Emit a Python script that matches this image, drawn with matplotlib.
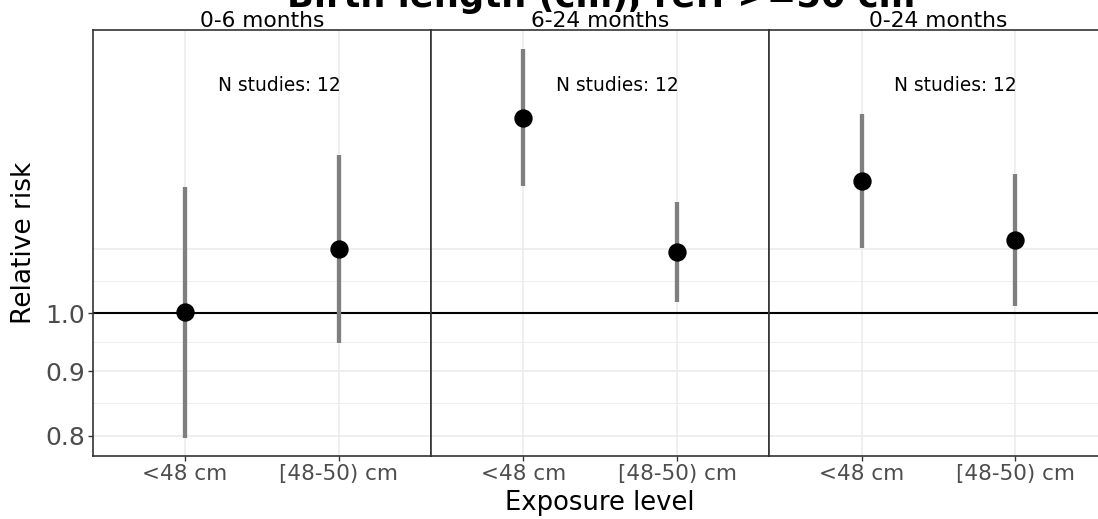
import numpy as np
import matplotlib
matplotlib.use('Agg')
import matplotlib.pyplot as plt
from matplotlib.ticker import NullLocator, FixedLocator, FixedFormatter

# ---- data ----
panels = ['0-6 months', '6-24 months', '0-24 months']
categories = ['<48 cm', '[48-50) cm']
rr = [[1.002, 1.124], [1.428, 1.118], [1.273, 1.143]]
ci_lo = [[0.797, 0.948], [1.260, 1.021], [1.126, 1.014]]
ci_hi = [[1.259, 1.335], [1.618, 1.224], [1.439, 1.288]]
n_studies = [12, 12, 12]
y_breaks = [0.8, 0.9, 1.0]
y_labels = ['0.8', '0.9', '1.0']
grid_major = [0.8, 0.9, 1.0, 1.125]
title = 'Birth length (cm), ref: >=50 cm'
xlabel = 'Exposure level'
ylabel = 'Relative risk'

grid_minor = [np.sqrt(a * b) for a, b in zip(grid_major[:-1], grid_major[1:])]

W, H = 1098, 519
fig = plt.figure(figsize=(W / 100, H / 100), dpi=100)
fig.patch.set_facecolor('white')

lefts = [92.7, 431.0, 769.3]
pw = 338.5
top_px, bot_px = 30.0, 456.0
ylim = (0.7709, 1.676)
xpos = np.arange(len(categories))

for i, name in enumerate(panels):
    ax = fig.add_axes([lefts[i] / W, (H - bot_px) / H, pw / W, (bot_px - top_px) / H])
    ax.set_yscale('log')
    ax.set_ylim(*ylim)
    ax.set_xlim(-0.6, len(categories) - 1 + 0.6)
    ax.set_facecolor('white')

    for g in grid_minor:
        ax.axhline(g, color='#ebebeb', lw=0.6, zorder=0)
    for g in grid_major:
        ax.axhline(g, color='#ebebeb', lw=1.1, zorder=0)
    for xp in xpos:
        ax.axvline(xp, color='#ebebeb', lw=1.1, zorder=0)

    ax.axhline(1.0, color='black', lw=1.5, zorder=2)

    ax.vlines(xpos, ci_lo[i], ci_hi[i], color='#7f7f7f', lw=3.1, zorder=3)
    ax.plot(xpos, rr[i], 'o', color='black', ms=12.2, mec='black', zorder=4)

    ax.text(1.61 - 1.0 + 0.0, 1.50, f'N studies: {n_studies[i]}', ha='center',
            va='baseline', fontsize=13.4, color='black', zorder=5,
            transform=ax.transData)

    ax.yaxis.set_minor_locator(NullLocator())
    ax.xaxis.set_minor_locator(NullLocator())
    ax.set_xticks(xpos)
    ax.set_xticklabels(categories, fontsize=15.5, color='#4d4d4d')
    ax.tick_params(axis='x', length=3.4, width=1.0, color='#333333', pad=2.2)
    if i == 0:
        ax.yaxis.set_major_locator(FixedLocator(y_breaks))
        ax.yaxis.set_major_formatter(FixedFormatter(y_labels))
        ax.tick_params(axis='y', length=3.4, width=1.0, color='#333333', pad=2.0,
                       labelsize=18, labelcolor='#4d4d4d')
    else:
        ax.yaxis.set_major_locator(NullLocator())
        ax.tick_params(axis='y', length=0)
        ax.set_yticklabels([])

    for s in ax.spines.values():
        s.set_color('#333333')
        s.set_linewidth(1.2)

    cx = (lefts[i] + pw / 2) / W
    fig.text(cx, 1 - 26.7 / H, name, ha='center', va='baseline', fontsize=15.7, color='black')

fig.text(600.8 / W, 1 - 7 / H, title, ha='center', va='baseline', fontsize=25.4,
         fontweight='bold', color='black')
fig.text(600.0 / W, 1 - 510 / H, xlabel, ha='center', va='baseline', fontsize=18.6, color='black')
fig.text(24.5 / W, 1 - 243 / H, ylabel, ha='center', va='center', rotation=90,
         fontsize=19, color='black')

fig.savefig('out.png', dpi=100)
